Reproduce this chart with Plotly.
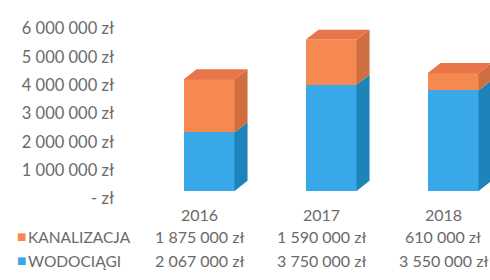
import plotly.graph_objects as go

# ---- data ----
years = ["2016", "2017", "2018"]
kanalizacja = [1875000, 1590000, 610000]
wodociagi = [2067000, 3750000, 3550000]
kan_labels = ["1 875 000 zł", "1 590 000 zł", "610 000 zł"]
wod_labels = ["2 067 000 zł", "3 750 000 zł", "3 550 000 zł"]
series_names = ["KANALIZACJA", "WODOCIĄGI"]
ytick_vals = [0, 1000000, 2000000, 3000000, 4000000, 5000000, 6000000]
ytick_text = ["- zł", "1 000 000 zł", "2 000 000 zł", "3 000 000 zł",
              "4 000 000 zł", "5 000 000 zł", "6 000 000 zł"]

# ---- style / geometry ----
W, H = 490, 280
FONT = "Lato"
TXT = "#6a6a6a"
BLUE, BLUE_SIDE = "#38a8e8", "#1d83b8"
ORANGE, ORANGE_SIDE, ORANGE_TOP = "#f6894f", "#cf6e40", "#e8744a"
BAR_W = 0.418
DX = 0.107          # depth offset in x units
DY = 360000         # depth offset in y units


def sx(px):  # screen x -> paper fraction
    return px / W


def sy(py):  # screen y -> paper fraction
    return 1 - py / H


xs = list(range(len(years)))
fig = go.Figure()

# anchor trace so the labelled value axis is drawn
fig.add_trace(go.Scatter(x=[None], y=[None], xaxis="x", yaxis="y",
                         showlegend=False, hoverinfo="skip"))

# front faces
fig.add_trace(go.Bar(x=xs, y=wodociagi, name=series_names[1], width=BAR_W,
                     marker=dict(color=BLUE, line=dict(width=0)),
                     xaxis="x", yaxis="y2", hoverinfo="skip"))
fig.add_trace(go.Bar(x=xs, y=kanalizacja, name=series_names[0], width=BAR_W,
                     marker=dict(color=ORANGE, line=dict(width=0)),
                     xaxis="x", yaxis="y2", hoverinfo="skip"))


def poly(px, py, color):
    fig.add_trace(go.Scatter(x=px + [px[0]], y=py + [py[0]], mode="lines",
                             fill="toself", fillcolor=color,
                             line=dict(width=0, color=color),
                             xaxis="x", yaxis="y2", hoverinfo="skip",
                             showlegend=False))


for i, x in enumerate(xs):
    segs = [(0, wodociagi[i], BLUE_SIDE),
            (wodociagi[i], wodociagi[i] + kanalizacja[i], ORANGE_SIDE)]
    r = x + BAR_W / 2
    l = x - BAR_W / 2
    for b, t, c in segs:
        poly([r, r + DX, r + DX, r], [b, b + DY, t + DY, t], c)
    top = wodociagi[i] + kanalizacja[i]
    poly([l, l + DX, r + DX, r], [top, top + DY, top + DY, top], ORANGE_TOP)

ann = []
for i, x in enumerate(xs):
    cx = x - 0.08
    ann.append(dict(x=cx, y=sy(220), xref="x", yref="paper", text=years[i],
                    showarrow=False, xanchor="center", yanchor="middle",
                    font=dict(family=FONT, size=16, color=TXT)))
    ann.append(dict(x=cx, y=sy(244), xref="x", yref="paper", text=kan_labels[i],
                    showarrow=False, xanchor="center", yanchor="middle",
                    font=dict(family=FONT, size=16, color=TXT)))
    ann.append(dict(x=cx, y=sy(270), xref="x", yref="paper", text=wod_labels[i],
                    showarrow=False, xanchor="center", yanchor="middle",
                    font=dict(family=FONT, size=16, color=TXT)))

for name, color, py in [(series_names[0], ORANGE, 244), (series_names[1], BLUE, 270)]:
    ann.append(dict(x=sx(21), y=sy(py), xref="paper", yref="paper", text="■",
                    showarrow=False, xanchor="center", yanchor="middle",
                    font=dict(family="DejaVu Sans", size=10, color=color)))
    ann.append(dict(x=sx(26), y=sy(py), xref="paper", yref="paper", text=name,
                    showarrow=False, xanchor="left", yanchor="middle",
                    font=dict(family=FONT, size=15.5, color=TXT)))

x_left_px = 115      # screen px of value-axis line
x0_px = 209          # screen px of first bar centre
px_per_unit = 122
fig.update_layout(
    width=W, height=H, margin=dict(l=0, r=0, t=0, b=0),
    paper_bgcolor="white", plot_bgcolor="white",
    barmode="stack", showlegend=False, bargap=0,
    xaxis=dict(domain=[sx(x_left_px), 1],
               range=[(x_left_px - x0_px) / px_per_unit, (W - x0_px) / px_per_unit],
               showticklabels=False, showgrid=False, zeroline=False, showline=False),
    yaxis=dict(domain=[sy(203), sy(20)], range=[0, 6000000],
               anchor="x", tickvals=ytick_vals, ticktext=ytick_text,
               showgrid=False, zeroline=False, showline=False, ticks="",
               tickfont=dict(family=FONT, size=16.5, color=TXT)),
    yaxis2=dict(domain=[sy(195), sy(12)], range=[0, 6000000],
                anchor="x", visible=False),
    annotations=ann,
)

fig.write_html("out.html",
               config={"displayModeBar": False},
               post_script="document.body.style.margin='0';"
                           "document.body.style.overflow='hidden';")
